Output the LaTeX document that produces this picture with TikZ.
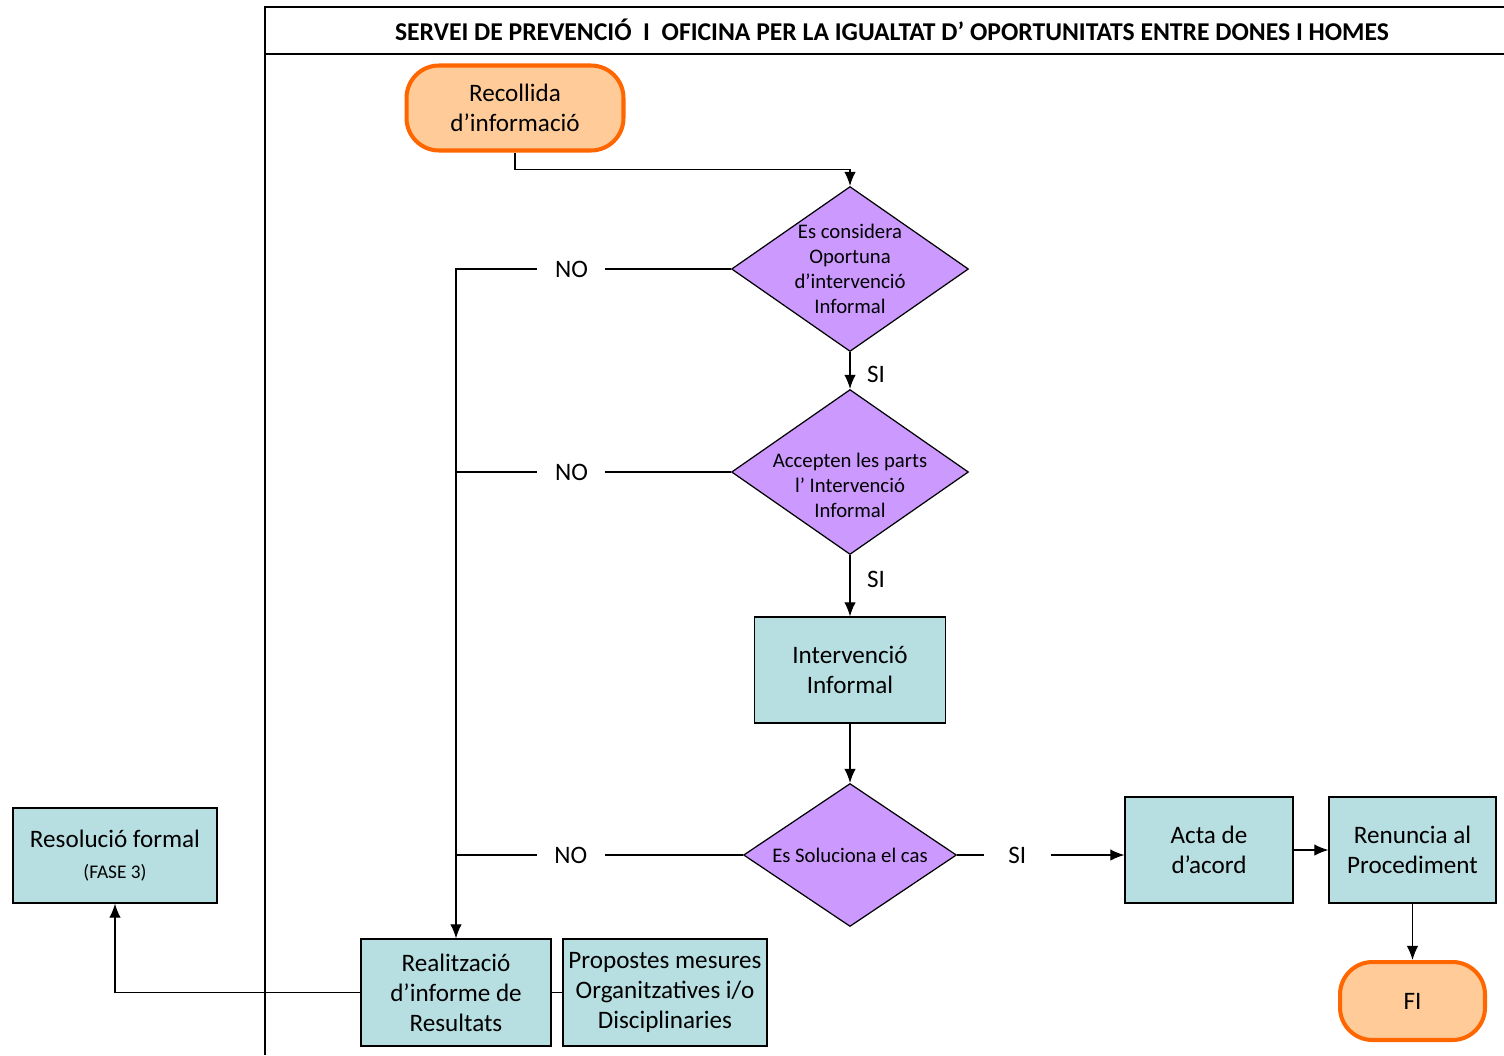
\documentclass[tikz,border=0pt]{standalone}
\usepackage{fontspec}
\setmainfont{Carlito}
\usetikzlibrary{arrows,arrows.meta,shapes,calc}
\tikzset{>={Latex[length=8pt,width=6.5pt]}}
\definecolor{boxfill}{HTML}{B7DEE1}
\definecolor{decfill}{HTML}{CC99FF}
\definecolor{termfill}{HTML}{FFCC99}
\definecolor{termline}{HTML}{FF6600}
\tikzset{
  txt/.style={font=\fontsize{14.3}{17}\selectfont},
  box/.style={txt, draw, fill=boxfill, align=center, inner sep=1pt},
  dec/.style={diamond, draw, fill=decfill, inner sep=0pt},
  dectxt/.style={align=center, font=\fontsize{11.8}{14.2}\selectfont},
  term/.style={txt, draw=termline, line width=2.3pt, fill=termfill, rounded corners=0.65cm, align=center},
  lbl/.style={txt, fill=white, inner xsep=10pt, inner ysep=1pt},
}

\begin{document}
\begin{tikzpicture}[x=0.02cm, y=-0.02cm, line width=0.7pt]
\useasboundingbox (0,0) rectangle (1504,1055);
% frame and title
\draw (265,1055) -- (265,7) -- (1504,7);
\draw (265,54) -- (1504,54);
\node[font=\fontsize{14.6}{17}\bfseries\selectfont] (title) at (892,30) {SERVEI DE PREVENCIÓ\ \ I\ \ OFICINA PER LA IGUALTAT D’ OPORTUNITATS ENTRE DONES I HOMES};

\node[term, minimum width=4.34cm, minimum height=1.70cm] (rec) at (515,108) {Recollida\\d’informació};
\node[dec, minimum width=4.74cm, minimum height=3.30cm,
  label={[dectxt]center:Es considera\\Oportuna\\d’intervenció\\Informal}] (d1) at (850,269) {};
\node[dec, minimum width=4.74cm, minimum height=3.30cm,
  label={[dectxt, yshift=-0.26cm]center:Accepten les parts\\l’ Intervenció\\Informal}] (d2) at (850,472) {};
\node[box, minimum width=3.82cm, minimum height=2.12cm] (int) at (850,670) {Intervenció\\Informal};
\node[dec, minimum width=4.26cm, minimum height=2.86cm,
  label={[dectxt]center:Es Soluciona el cas}] (d3) at (850,855) {};
\node[box, minimum width=3.36cm, minimum height=2.12cm] (acta) at (1209,850) {Acta de\\d’acord};
\node[box, minimum width=3.34cm, minimum height=2.12cm] (ren) at (1412.5,850) {Renuncia al\\Procediment};
\node[term, minimum width=2.90cm, minimum height=1.56cm] (fi) at (1412.5,1001) {FI};
\node[box, minimum width=3.80cm, minimum height=2.14cm] (rea) at (456,992.5) {Realització\\d’informe de\\Resultats};
\node[box, minimum width=4.08cm, minimum height=2.14cm] (prop) at (665,992.5) {Propostes mesures\\Organitzatives i/o\\Disciplinaries};
\node[box, minimum width=4.08cm, minimum height=1.90cm] (res) at (115,855.5) {Resolució formal\\[1pt]{\fontsize{11}{13}\selectfont (FASE 3)}};

\draw[->] (rec.south) -- ++(0,17) -| (d1.north);
\draw[->] (d1.south) -- node[txt, right, pos=0.62, xshift=6pt] {SI} (d2.north);
\draw[->] (d2.south) -- node[txt, right, pos=0.4, xshift=6pt] {SI} (int.north);
\draw[->] (int.south) -- (d3.north);
\draw[->] (d3.east) -- node[lbl, pos=0.36, inner xsep=14pt] {SI} (d3.east -| acta.west);
\draw[->] (acta.east) -- (ren.west);
\draw[->] (ren.south) -- (fi.north);
\draw[->] (d1.west) -- node[lbl, pos=0.58] {NO} (d1.west -| rea.north) -- (rea.north);
\draw (d2.west) -- node[lbl, pos=0.58] {NO} (d2.west -| rea.north);
\draw (d3.west) -- node[lbl, pos=0.6] {NO} (d3.west -| rea.north);
\draw[->] (rea.west) -| (res.south);
\draw (rea.east) -- (prop.west);
\end{tikzpicture}
\end{document}
